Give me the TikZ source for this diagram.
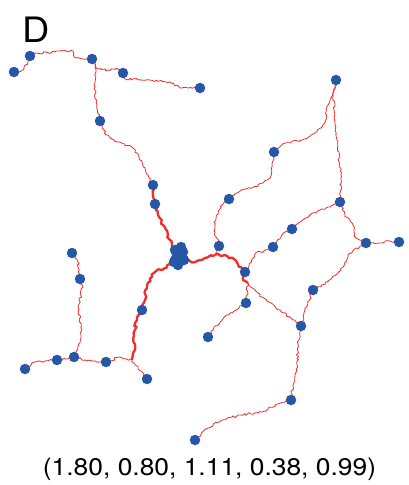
\documentclass[tikz,border=0pt]{standalone}
\usepackage{fontspec}
\setmainfont{TeX Gyre Heros}
\usetikzlibrary{decorations.pathmorphing}
\definecolor{wire}{RGB}{238,45,45}
\definecolor{dotblue}{RGB}{38,86,166}
\tikzset{
  thin wire/.style={draw=wire, line width=0.8pt, line join=round,
    decorate, decoration={random steps, segment length=2.2pt, amplitude=1.2pt}},
  thick wire/.style={draw=wire, line width=2.3pt, line join=round,
    decorate, decoration={random steps, segment length=2.6pt, amplitude=1.5pt}},
  dot/.style={circle, fill=dotblue, inner sep=0pt, minimum size=10.5pt}
}
\begin{document}
\begin{tikzpicture}[x=1pt, y=-1pt]
\pgfmathsetseed{1234}
\useasboundingbox (0,0) rectangle (408,485);
% positions
\coordinate (n1) at (14,72);
\coordinate (n2) at (30,56);
\coordinate (n3) at (92,59);
\coordinate (n4) at (123,73);
\coordinate (n5) at (200,88);
\coordinate (n6) at (100,121);
\coordinate (n7) at (153,185);
\coordinate (n8) at (155,204);
\coordinate (C) at (178,257);
\coordinate (n9) at (219,246);
\coordinate (n10) at (229,199);
\coordinate (n11) at (245,272);
\coordinate (n12) at (336,80);
\coordinate (n13) at (274,152);
\coordinate (n15) at (340,202);
\coordinate (n16) at (292,229);
\coordinate (n17) at (273,247);
\coordinate (n18) at (366,243);
\coordinate (n19) at (399,242);
\coordinate (n20) at (246,303);
\coordinate (n21) at (208,337);
\coordinate (n22) at (313,290);
\coordinate (n23) at (301,326);
\coordinate (n24) at (291,400);
\coordinate (n25) at (195,440);
\coordinate (n26) at (72,253);
\coordinate (n27) at (80,279);
\coordinate (n28) at (142,310);
\coordinate (n29) at (25,369);
\coordinate (n30) at (57,360);
\coordinate (n31) at (74,357);
\coordinate (n32) at (106,362);
\coordinate (n33) at (147,379);
\coordinate (J1) at (132,360);
\coordinate (J2) at (215,255);
\coordinate (J3) at (248,283);
% thin wires
\path[thin wire] (n1) -- (22,70) -- (28,62) -- (n2);
\path[thin wire] (n2) -- (36,53) -- (55,52) -- (73,51) -- (75,58) -- (n3);
\path[thin wire] (n3) -- (96,68) -- (108,70) -- (118,69) -- (n4);
\path[thin wire] (n4) -- (125,79) -- (150,80) -- (170,82) -- (180,88) -- (n5);
\path[thin wire] (n3) -- (96,70) -- (94,85) -- (97,105) -- (n6);
\path[thin wire] (n6) -- (106,135) -- (118,142) -- (133,148) -- (142,162) -- (148,175) -- (n7);
\path[thin wire] (J1) -- (120,357) -- (n32);
\path[thin wire] (J1) -- (138,368) -- (n33);
\path[thin wire] (n32) -- (85,360) -- (n31);
\path[thin wire] (n31) -- (n30);
\path[thin wire] (n30) -- (35,362) -- (n29);
\path[thin wire] (n31) -- (80,343) -- (82,330) -- (78,307) -- (83,287) -- (n27);
\path[thin wire] (n27) -- (78,262) -- (n26);
\path[thin wire] (J2) -- (n9);
\path[thin wire] (n9) -- (215,232) -- (214,222) -- (222,205) -- (n10);
\path[thin wire] (n10) -- (240,191) -- (258,185) -- (270,178) -- (272,165) -- (n13);
\path[thin wire] (n13) -- (285,143) -- (302,140) -- (315,133) -- (325,122) -- (328,105) -- (334,92) -- (n12);
\path[thin wire] (n12) -- (333,95) -- (335,115) -- (337,140) -- (341,175) -- (n15);
\path[thin wire] (n15) -- (345,215) -- (353,225) -- (355,237) -- (n18);
\path[thin wire] (n18) -- (380,243) -- (390,241) -- (n19);
\path[thin wire] (n15) -- (328,207) -- (310,215) -- (n16);
\path[thin wire] (n16) -- (282,235) -- (n17) -- (255,254) -- (n11);
\path[thin wire] (n18) -- (350,253) -- (343,267) -- (328,282) -- (n22);
\path[thin wire] (n22) -- (305,310) -- (n23);
\path[thin wire] (J3) -- (262,297) -- (280,310) -- (293,320) -- (n23);
\path[thin wire] (n23) -- (298,345) -- (297,365) -- (293,385) -- (n24);
\path[thin wire] (n24) -- (278,404) -- (262,412) -- (240,415) -- (222,420) -- (208,428) -- (n25);
\path[thin wire] (J3) -- (n20);
\path[thin wire] (n20) -- (230,313) -- (220,322) -- (213,330) -- (n21);
% thick wires
\path[thick wire] (n7) -- (n8);
\path[thick wire] (n8) -- (158,215) -- (163,225) -- (168,235) -- (172,247) -- (C);
\path[thick wire] (C) -- (165,268) -- (155,272) -- (147,285) -- (145,300) -- (n28);
\path[thick wire] (n28) -- (137,320) -- (134,335) -- (135,350) -- (J1);
\path[thick wire] (C) -- (195,262) -- (205,258) -- (J2);
\path[thick wire] (J2) -- (225,255) -- (235,260) -- (n11);
\path[thick wire] (n11) -- (243,280) -- (J3);
% dots
\foreach \p in {n1,n2,n3,n4,n5,n6,n7,n8,n9,n10,n11,n12,n13,n15,n16,n17,n18,n19,n20,n21,n22,n23,n24,n25,n26,n27,n28,n29,n30,n31,n32,n33}
  \node[dot] (d\p) at (\p) {};
% central cluster
\node[dot] (c1) at (175,250) {};
\node[dot] (c2) at (183,252) {};
\node[dot] (c3) at (176,258) {};
\node[dot] (c4) at (184,260) {};
\node[dot] (c5) at (178,265) {};
\node[dot] (c6) at (174,262) {};
\node[dot] (c7) at (181,247) {};
% labels
\node[inner sep=0pt] (lab) at (36.5,29.5) {\scalebox{1.08}[1]{\fontsize{35}{35}\selectfont D}};
\node[inner sep=0pt] (cap) at (209.5,469.5) {\scalebox{1.1}[1]{\fontsize{24}{24}\selectfont (1.80, 0.80, 1.11, 0.38, 0.99)}};
\end{tikzpicture}
\end{document}
